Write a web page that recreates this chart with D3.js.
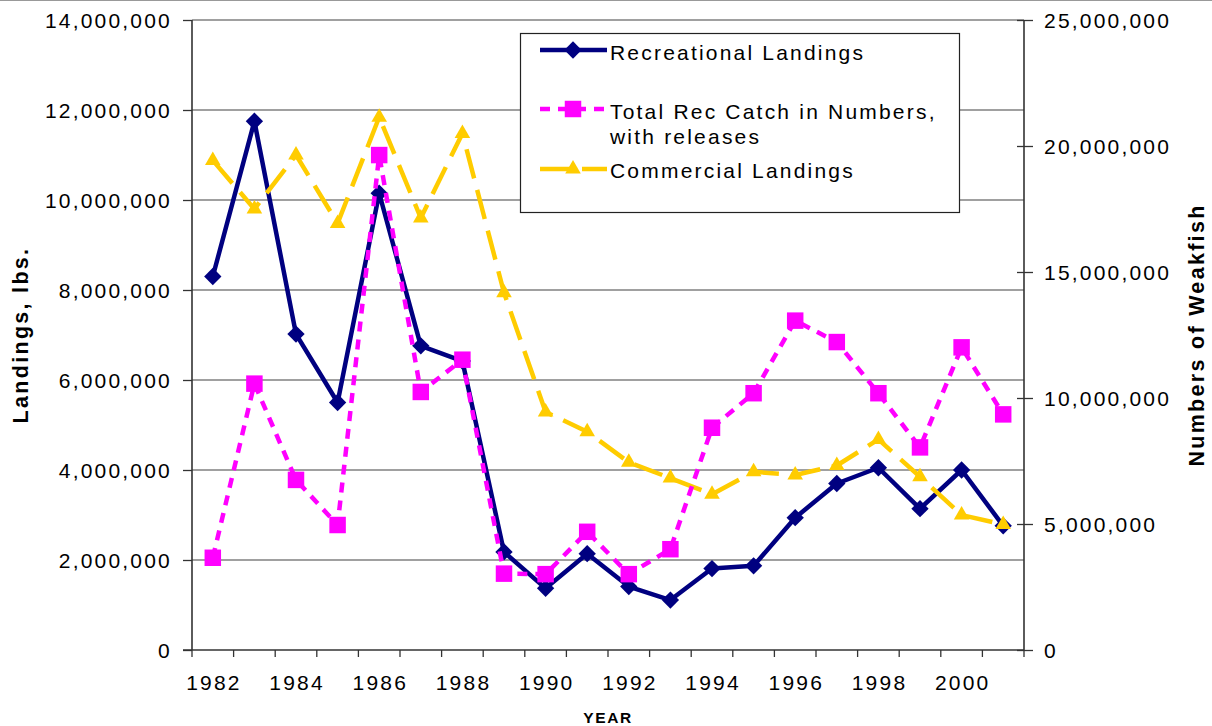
<!DOCTYPE html>
<html>
<head>
<meta charset="utf-8">
<script src="https://cdn.jsdelivr.net/npm/d3@7"></script>
<style>
  body { margin: 0; background: #fff; }
  svg { display: block; font-family: "Liberation Sans", Arial, sans-serif; }
  .tick-label, .legend-label { font-size: 21px; letter-spacing: 2.2px; fill: #000; }
  .axis-title { font-size: 21.5px; font-weight: bold; letter-spacing: 2.3px; fill: #000; }
  .x-title { font-size: 15.5px; font-weight: bold; letter-spacing: 1.6px; fill: #000; }
  .grid-line { stroke: #808080; stroke-width: 1.3; }
  .axis-line { stroke: #333; stroke-width: 1.6; fill: none; }
</style>
</head>
<body>
<div id="chart"></div>
<script>
// Weakfish landings / catch
const years = [1982, 1983, 1984, 1985, 1986, 1987, 1988, 1989, 1990, 1991,
               1992, 1993, 1994, 1995, 1996, 1997, 1998, 1999, 2000, 2001];
const yearLabels = [1982, 1984, 1986, 1988, 1990, 1992, 1994, 1996, 1998, 2000];
const leftTicks = [0, 2000000, 4000000, 6000000, 8000000, 10000000, 12000000, 14000000];
const rightTicks = [0, 5000000, 10000000, 15000000, 20000000, 25000000];

// lbs (left axis)
const recreationalLandings = [8300000, 11750000, 7020000, 5500000, 10150000, 6760000, 6420000, 2180000, 1370000, 2140000,
                              1410000, 1110000, 1810000, 1870000, 2940000, 3700000, 4050000, 3140000, 4000000, 2760000];
// numbers of fish (right axis)
const totalRecCatch = [3660000, 10570000, 6750000, 4960000, 19640000, 10240000, 11520000, 3030000, 3010000, 4690000,
                       3010000, 4000000, 8820000, 10190000, 13070000, 12220000, 10190000, 8040000, 12010000, 9350000];
// lbs (left axis)
const commercialLandings = [10880000, 9800000, 11000000, 9480000, 11840000, 9600000, 11480000, 7940000, 5290000, 4850000,
                            4170000, 3820000, 3460000, 3960000, 3890000, 4100000, 4680000, 3850000, 3000000, 2790000];

const seriesNames = ['Recreational Landings', 'Total Rec Catch in Numbers,|with releases', 'Commercial Landings'];

class WeakfishChart {

  constructor(_config) {
    this.config = {
      parentElement: _config.parentElement,
      containerWidth: 1212,
      containerHeight: 726,
      margin: {top: 20, right: 188, bottom: 76, left: 192},
      legend: {x: 520, y: 33, width: 439, height: 179}
    }
    // drawing order: primary series first, secondary on top
    this.series = [
      {name: seriesNames[0], values: recreationalLandings, axis: 'left', color: '#000080', dash: null,
       symbol: d3.symbolSquare, size: 150, rotate: 45},
      {name: seriesNames[2], values: commercialLandings, axis: 'left', color: '#FFCC00', dash: '30,12',
       symbol: d3.symbolTriangle, size: 105, rotate: 0},
      {name: seriesNames[1], values: totalRecCatch, axis: 'right', color: '#FF00FF', dash: '10,8',
       symbol: d3.symbolSquare, size: 272, rotate: 0}
    ];
    this.initVis();
  }

  initVis() {
    let vis = this;

    vis.config.width = vis.config.containerWidth - vis.config.margin.left - vis.config.margin.right;
    vis.config.height = vis.config.containerHeight - vis.config.margin.top - vis.config.margin.bottom;

    vis.svg = d3.select(vis.config.parentElement).append('svg')
        .attr('width', vis.config.containerWidth)
        .attr('height', vis.config.containerHeight);

    // thin frame line at the very top of the picture
    vis.svg.append('line')
        .attr('x1', 0).attr('x2', vis.config.containerWidth)
        .attr('y1', 0.5).attr('y2', 0.5)
        .attr('stroke', '#999').attr('stroke-width', 1);

    vis.chart = vis.svg.append('g')
        .attr('transform', `translate(${vis.config.margin.left},${vis.config.margin.top})`);

    vis.xScale = d3.scaleBand()
        .domain(years)
        .range([0, vis.config.width])
        .padding(0);

    vis.yLeft = d3.scaleLinear()
        .domain([0, 14000000])
        .range([vis.config.height, 0]);

    vis.yRight = d3.scaleLinear()
        .domain([0, 25000000])
        .range([vis.config.height, 0]);

    vis.renderAxes();
    vis.renderVis();
    vis.renderLegend();
  }

  renderAxes() {
    let vis = this;
    const fmt = d3.format(',');

    // Horizontal gridlines from the left axis
    vis.chart.append('g')
        .selectAll('.grid-line')
        .data(leftTicks.filter(d => d > 0))
      .join('line')
        .attr('class', 'grid-line')
        .attr('x1', 0)
        .attr('x2', vis.config.width)
        .attr('y1', d => vis.yLeft(d))
        .attr('y2', d => vis.yLeft(d));

    // Left axis
    const leftAxis = d3.axisLeft(vis.yLeft)
        .tickValues(leftTicks)
        .tickFormat(fmt)
        .tickSize(9)
        .tickPadding(11);

    const leftG = vis.chart.append('g').call(leftAxis);
    leftG.select('.domain').remove();
    leftG.selectAll('.tick line').attr('stroke', '#333').attr('stroke-width', 1.3);
    leftG.selectAll('.tick text')
        .attr('class', 'tick-label')
        .attr('dy', '0.35em');
    leftG.attr('font-size', null).attr('font-family', null);

    // Right axis, ticks crossing the axis line
    const rightAxis = d3.axisRight(vis.yRight)
        .tickValues(rightTicks)
        .tickFormat(fmt)
        .tickSize(9)
        .tickPadding(11);

    const rightG = vis.chart.append('g')
        .attr('transform', `translate(${vis.config.width},0)`)
        .call(rightAxis);
    rightG.select('.domain').remove();
    rightG.selectAll('.tick line')
        .attr('x1', -7)
        .attr('x2', 9)
        .attr('stroke', '#333').attr('stroke-width', 1.3);
    rightG.selectAll('.tick text')
        .attr('class', 'tick-label')
        .attr('x', 20)
        .attr('dy', '0.35em');
    rightG.attr('font-size', null).attr('font-family', null);

    // Bottom axis: labels at category centres, ticks between categories
    const bottomAxis = d3.axisBottom(vis.xScale)
        .tickValues(yearLabels)
        .tickSize(0)
        .tickPadding(25);

    const bottomG = vis.chart.append('g')
        .attr('transform', `translate(0,${vis.config.height})`)
        .call(bottomAxis);
    bottomG.select('.domain').remove();
    bottomG.selectAll('.tick text')
        .attr('class', 'tick-label')
        .attr('dx', '1.1');
    bottomG.attr('font-size', null).attr('font-family', null);

    const boundaries = years.map(d => vis.xScale(d)).concat([vis.config.width]);
    bottomG.selectAll('.cat-tick')
        .data(boundaries)
      .join('line')
        .attr('class', 'cat-tick')
        .attr('x1', d => d).attr('x2', d => d)
        .attr('y1', 0).attr('y2', 7)
        .attr('stroke', '#333').attr('stroke-width', 1.3);

    // Axis lines
    vis.chart.append('line')
        .attr('class', 'axis-line')
        .attr('x1', 0).attr('x2', 0)
        .attr('y1', 0).attr('y2', vis.config.height);
    vis.chart.append('line')
        .attr('class', 'axis-line')
        .attr('x1', vis.config.width).attr('x2', vis.config.width)
        .attr('y1', 0).attr('y2', vis.config.height);
    vis.chart.append('line')
        .attr('class', 'axis-line')
        .attr('x1', -9).attr('x2', vis.config.width)
        .attr('y1', vis.config.height).attr('y2', vis.config.height);

    // Axis titles
    vis.svg.append('text')
        .attr('class', 'axis-title')
        .attr('transform', `translate(28,${vis.config.margin.top + vis.config.height / 2}) rotate(-90)`)
        .attr('text-anchor', 'middle')
        .text('Landings, lbs.');

    vis.svg.append('text')
        .attr('class', 'axis-title')
        .attr('transform', `translate(1204,${vis.config.margin.top + vis.config.height / 2}) rotate(-90)`)
        .attr('text-anchor', 'middle')
        .text('Numbers of Weakfish');

    vis.svg.append('text')
        .attr('class', 'x-title')
        .attr('x', vis.config.margin.left + vis.config.width / 2)
        .attr('y', 723)
        .attr('text-anchor', 'middle')
        .text('YEAR');
  }

  renderVis() {
    let vis = this;
    const cx = d => vis.xScale(d) + vis.xScale.bandwidth() / 2;

    const seriesG = vis.chart.selectAll('.series')
        .data(vis.series)
      .join('g')
        .attr('class', 'series');

    seriesG.append('path')
        .attr('fill', 'none')
        .attr('stroke', d => d.color)
        .attr('stroke-width', 4.5)
        .attr('stroke-dasharray', d => d.dash)
        .attr('stroke-linejoin', 'round')
        .attr('d', s => {
          const y = s.axis === 'left' ? vis.yLeft : vis.yRight;
          return d3.line()
              .x((v, i) => cx(years[i]))
              .y(v => y(v))(s.values);
        });

    seriesG.each(function(s) {
      const y = s.axis === 'left' ? vis.yLeft : vis.yRight;
      d3.select(this).selectAll('.marker')
          .data(s.values)
        .join('path')
          .attr('class', 'marker')
          .attr('transform', (v, i) => `translate(${cx(years[i])},${y(v)}) rotate(${s.rotate})`)
          .attr('fill', s.color)
          .attr('d', d3.symbol(s.symbol, s.size));
    });
  }

  renderLegend() {
    let vis = this;
    const L = vis.config.legend;

    const legend = vis.svg.append('g');

    legend.append('rect')
        .attr('x', L.x + 0.5)
        .attr('y', L.y + 0.5)
        .attr('width', L.width)
        .attr('height', L.height)
        .attr('fill', '#fff')
        .attr('stroke', '#222')
        .attr('stroke-width', 1.2);

    const order = [vis.series[0], vis.series[2], vis.series[1]];
    const rowY = [50, 109, 169];
    const textY = [60, 119, 178];

    const item = legend.selectAll('.legend-item')
        .data(order)
      .join('g')
        .attr('class', 'legend-item');

    item.append('line')
        .attr('x1', 540).attr('x2', 607)
        .attr('y1', (d, i) => rowY[i]).attr('y2', (d, i) => rowY[i])
        .attr('stroke', d => d.color)
        .attr('stroke-width', 4.5)
        .attr('stroke-dasharray', d => d.dash);

    item.append('path')
        .attr('transform', (d, i) => `translate(573,${rowY[i]}) rotate(${d.rotate})`)
        .attr('fill', d => d.color)
        .attr('d', d => d3.symbol(d.symbol, d.size)());

    item.append('text')
        .attr('class', 'legend-label')
        .attr('y', (d, i) => textY[i])
        .selectAll('tspan')
        .data(d => d.name.split('|'))
      .join('tspan')
        .attr('x', 610)
        .attr('dy', (d, i) => i ? 25 : 0)
        .text(d => d);
  }
}

new WeakfishChart({parentElement: '#chart'});
</script>
</body>
</html>
